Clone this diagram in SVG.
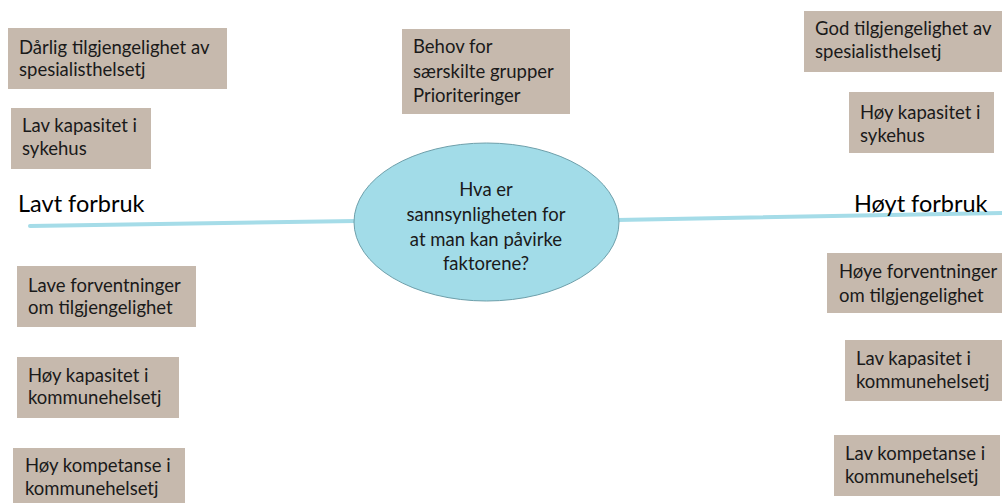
<svg xmlns="http://www.w3.org/2000/svg" width="1002" height="503" viewBox="0 0 1002 503">
  <style>
    .box { fill: #C6B9AD; }
    .t { font-family: Lato, "Open Sans", sans-serif; font-size: 18.5px; fill: #1a1a1a; }
    .axis { font-family: Lato, "Open Sans", sans-serif; font-size: 23.5px; fill: #000; }
    .ct { font-family: Lato, "Open Sans", sans-serif; font-size: 18.5px; fill: #1a1a1a; text-anchor: middle; }
    .link { stroke: #A5DCE8; stroke-width: 4; stroke-linecap: round; fill: none; }
  </style>

  <!-- axis line through the central question -->
  <g id="connectors">
    <path class="link" d="M30,226 L356,221"/>
    <path class="link" d="M617,220 L1002,213"/>
  </g>

  <g id="center">
    <ellipse cx="486.5" cy="222" rx="132.5" ry="79" fill="#A2DCE8" stroke="#6E9FAA" stroke-width="1"/>
    <text class="ct" x="486" y="196">Hva er</text>
    <text class="ct" x="486" y="221">sannsynligheten for</text>
    <text class="ct" x="486" y="246">at man kan påvirke</text>
    <text class="ct" x="486" y="270">faktorene?</text>
  </g>

  <g id="label-low"><text class="axis" x="18" y="212">Lavt forbruk</text></g>
  <g id="label-high"><text class="axis" x="854" y="212">Høyt forbruk</text></g>

  <g id="n-darlig">
    <rect class="box" x="8" y="28" width="219" height="61"/>
    <text class="t" x="19" y="54">Dårlig tilgjengelighet av</text>
    <text class="t" x="19" y="76">spesialisthelsetj</text>
  </g>
  <g id="n-lavkap-sykehus">
    <rect class="box" x="11" y="108" width="140" height="61"/>
    <text class="t" x="22" y="132">Lav kapasitet i</text>
    <text class="t" x="22" y="155">sykehus</text>
  </g>
  <g id="n-behov">
    <rect class="box" x="402" y="29" width="168" height="85"/>
    <text class="t" x="413" y="53">Behov for</text>
    <text class="t" x="413" y="78">særskilte grupper</text>
    <text class="t" x="413" y="102">Prioriteringer</text>
  </g>
  <g id="n-god">
    <rect class="box" x="804" y="11" width="198" height="61"/>
    <text class="t" x="815" y="35">God tilgjengelighet av</text>
    <text class="t" x="815" y="58">spesialisthelsetj</text>
  </g>
  <g id="n-hoykap-sykehus">
    <rect class="box" x="849" y="92" width="145" height="61"/>
    <text class="t" x="860" y="119">Høy kapasitet i</text>
    <text class="t" x="860" y="142">sykehus</text>
  </g>
  <g id="n-lave-forv">
    <rect class="box" x="17" y="266" width="179" height="61"/>
    <text class="t" x="28" y="292">Lave forventninger</text>
    <text class="t" x="28" y="314">om tilgjengelighet</text>
  </g>
  <g id="n-hoykap-kommune">
    <rect class="box" x="17" y="357" width="162" height="61"/>
    <text class="t" x="28" y="382">Høy kapasitet i</text>
    <text class="t" x="28" y="404">kommunehelsetj</text>
  </g>
  <g id="n-hoykomp-kommune">
    <rect class="box" x="13" y="448" width="172" height="61"/>
    <text class="t" x="25" y="472">Høy kompetanse i</text>
    <text class="t" x="25" y="495">kommunehelsetj</text>
  </g>
  <g id="n-hoye-forv">
    <rect class="box" x="827" y="253" width="175" height="60"/>
    <text class="t" x="839" y="278">Høye forventninger</text>
    <text class="t" x="839" y="302">om tilgjengelighet</text>
  </g>
  <g id="n-lavkap-kommune">
    <rect class="box" x="845" y="340" width="157" height="61"/>
    <text class="t" x="856" y="365">Lav kapasitet i</text>
    <text class="t" x="856" y="388">kommunehelsetj</text>
  </g>
  <g id="n-lavkomp-kommune">
    <rect class="box" x="834" y="435" width="166" height="61"/>
    <text class="t" x="845" y="460">Lav kompetanse i</text>
    <text class="t" x="845" y="483">kommunehelsetj</text>
  </g>
</svg>
